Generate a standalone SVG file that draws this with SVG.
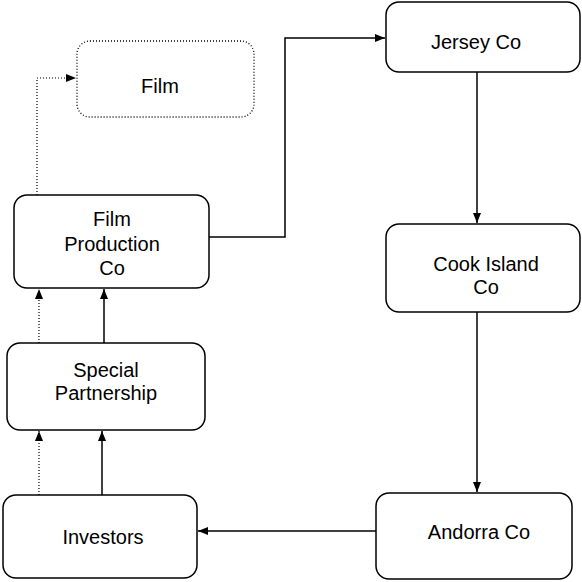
<svg xmlns="http://www.w3.org/2000/svg" width="582" height="582" viewBox="0 0 582 582">
<style>
.box{fill:#fff;stroke:#000;stroke-width:1.5}
.dbox{fill:#fff;stroke:#000;stroke-width:1.3;stroke-dasharray:1 2}
.t{font-family:"Liberation Sans",Arial,sans-serif;font-size:20px;fill:#000;text-anchor:middle}
.c{fill:none;stroke:#000;stroke-width:1.5}
.d{fill:none;stroke:#000;stroke-width:1.2;stroke-dasharray:1 2}
</style>
<defs>
<marker id="a" markerUnits="userSpaceOnUse" markerWidth="11" markerHeight="9" refX="10" refY="4" orient="auto">
<path d="M0,0 L10,4 L0,8 z" fill="#000"/>
</marker>
</defs>
<rect width="582" height="582" fill="#fff"/>
<g id="connectors">
<path class="d" d="M37,195 V78 H76" marker-end="url(#a)"/>
<path class="c" d="M209,237 H285 V38 H385" marker-end="url(#a)"/>
<path class="c" d="M477,72 V223" marker-end="url(#a)"/>
<path class="c" d="M477,312 V492" marker-end="url(#a)"/>
<path class="c" d="M376,531 H198" marker-end="url(#a)"/>
<path class="d" d="M39,343 V289" marker-end="url(#a)"/>
<path class="c" d="M104,343 V289" marker-end="url(#a)"/>
<path class="d" d="M39,495 V431" marker-end="url(#a)"/>
<path class="c" d="M102,495 V431" marker-end="url(#a)"/>
</g>
<g id="film">
<rect class="dbox" x="77" y="41" width="177" height="76" rx="13"/>
<text class="t" x="160" y="93">Film</text>
</g>
<g id="filmprod">
<rect class="box" x="14" y="195" width="195" height="93" rx="13"/>
<text class="t" x="112" y="226">Film</text>
<text class="t" x="112" y="251">Production</text>
<text class="t" x="112" y="275">Co</text>
</g>
<g id="special">
<rect class="box" x="7" y="343" width="198" height="87" rx="13"/>
<text class="t" x="106" y="377">Special</text>
<text class="t" x="106" y="400">Partnership</text>
</g>
<g id="investors">
<rect class="box" x="3" y="495" width="194" height="83" rx="13"/>
<text class="t" x="103" y="544">Investors</text>
</g>
<g id="jersey">
<rect class="box" x="386" y="2" width="194" height="70" rx="13"/>
<text class="t" x="476" y="49">Jersey Co</text>
</g>
<g id="cook">
<rect class="box" x="386" y="224" width="194" height="88" rx="13"/>
<text class="t" x="486" y="271">Cook Island</text>
<text class="t" x="486" y="294">Co</text>
</g>
<g id="andorra">
<rect class="box" x="376" y="493" width="196" height="86" rx="13"/>
<text class="t" x="479" y="539">Andorra Co</text>
</g>
</svg>
